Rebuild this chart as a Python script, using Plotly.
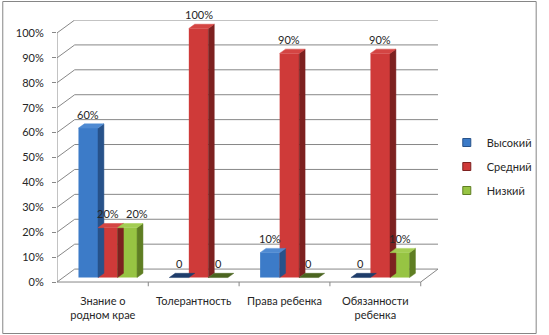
import plotly.graph_objects as go

# --- data -------------------------------------------------------------
categories = ["Знание о<br>родном крае", "Толерантность", "Права ребенка", "Обязанности<br>ребенка"]
series_names = ["Высокий", "Средний", "Низкий"]
high = [60, 0, 10, 0]
medium = [20, 100, 90, 90]
low = [20, 0, 0, 10]
y_ticks = [0, 10, 20, 30, 40, 50, 60, 70, 80, 90, 100]

series_values = [high, medium, low]

# --- styling ----------------------------------------------------------
front_colors = ["#3c7bc8", "#cf3a39", "#97c443"]
top_colors = ["#4f8ad2", "#d44543", "#a3cd52"]
side_colors = ["#27528a", "#7d2120", "#5f7e23"]
flat_colors = ["#1e3c6a", "#6a1b1a", "#4b6420"]
grid_color = "#878787"
text_color = "#262626"
font_family = "Lato"

W, H = 549, 335
ML, MR, MT, MB = 57, 102, 20, 48

# pseudo-3D geometry (data units)
BAR_W = 0.215          # width of one bar
SX, SY = 0.054, 1.8    # front face pushed into depth
BDX, BDY = 0.065, 1.7  # bar depth
DX, DY = 0.19, 5.2     # back wall offset

x_lo, x_hi = -0.505, 3.5 + DX
y_lo, y_hi = -2.0, 100 + DY

fig = go.Figure()

n_cat = len(categories)


def label_text(v):
    return "0" if v == 0 else f"{v}%"


for k, vals in enumerate(series_values):
    offset = -1.5 * BAR_W + k * BAR_W
    xs = [i + SX for i in range(n_cat)]
    # front faces
    fig.add_trace(go.Bar(
        x=xs, y=vals, base=SY, width=BAR_W, offset=offset,
        marker=dict(color=front_colors[k], line=dict(width=0)),
        showlegend=False, name=series_names[k], hoverinfo="skip",
    ))
    # top and side faces
    top_x, top_y, side_x, side_y, flat_x, flat_y = [], [], [], [], [], []
    for i, v in enumerate(vals):
        x0 = i + SX + offset
        x1 = x0 + BAR_W
        yt = v + SY
        poly_x = [x0, x1, x1 + BDX, x0 + BDX, x0, None]
        poly_y = [yt, yt, yt + BDY, yt + BDY, yt, None]
        if v == 0:
            flat_x += poly_x
            flat_y += poly_y
        else:
            top_x += poly_x
            top_y += poly_y
            side_x += [x1, x1, x1 + BDX, x1 + BDX, x1, None]
            side_y += [SY, yt, yt + BDY, SY + BDY, SY, None]
    for px, py, col in [(side_x, side_y, side_colors[k]), (top_x, top_y, top_colors[k]),
                        (flat_x, flat_y, flat_colors[k])]:
        if px:
            fig.add_trace(go.Scatter(
                x=px, y=py, mode="lines", fill="toself", fillcolor=col,
                line=dict(width=0.5, color=col), showlegend=False, hoverinfo="skip",
            ))
    # value labels; nudge a label right when its left neighbour has the same height
    for i, v in enumerate(vals):
        x0 = i + SX + offset
        nudge = 0
        if k > 0 and v != 0 and series_values[k - 1][i] == v:
            nudge = 10
        fig.add_annotation(
            x=x0 + BAR_W / 2, y=v + SY + BDY, text=label_text(v),
            showarrow=False, yanchor="bottom", yshift=1, xshift=nudge,
            font=dict(family=font_family, size=11, color=text_color),
        )

# legend entries
for k, name in enumerate(series_names):
    fig.add_trace(go.Scatter(
        x=[None], y=[None], mode="markers", name=name, legendgroup=name,
        marker=dict(symbol="square", size=8, color=front_colors[k],
                    line=dict(width=1, color=side_colors[k])),
    ))

shapes = []
# back wall gridlines with their diagonal lead-ins
for t in y_ticks:
    shapes.append(dict(type="line", x0=-0.5 + DX, y0=t + DY, x1=3.5 + DX, y1=t + DY,
                       line=dict(color=grid_color, width=1), layer="below"))
    shapes.append(dict(type="line", x0=x_lo, y0=t, x1=-0.5 + DX, y1=t + DY,
                       line=dict(color=grid_color, width=1), layer="below"))
# front vertical axis
shapes.append(dict(type="line", x0=x_lo, y0=0, x1=x_lo, y1=100,
                   line=dict(color=grid_color, width=1), layer="below"))
# floor edges
shapes.append(dict(type="line", x0=x_lo, y0=0, x1=3.5, y1=0,
                   line=dict(color=grid_color, width=1), layer="below"))
shapes.append(dict(type="line", x0=3.5, y0=0, x1=3.5 + DX, y1=DY,
                   line=dict(color=grid_color, width=1), layer="below"))
# category boundary ticks
for b in [0.5, 1.5, 2.5, 3.5]:
    shapes.append(dict(type="line", x0=b, y0=0, x1=b, y1=-1.7,
                       line=dict(color=grid_color, width=1), layer="below"))

# outer chart border (pixel positions converted to paper units)
pw, ph = W - ML - MR, H - MT - MB


def px_to_paper(px, py):
    return (px - ML) / pw, (H - MB - py) / ph


bx0, by0 = px_to_paper(1.5, 333.5)
bx1, by1 = px_to_paper(547.5, 1.5)
shapes.append(dict(type="rect", xref="paper", yref="paper", x0=bx0, y0=by0, x1=bx1, y1=by1,
                   line=dict(color="#868686", width=1), fillcolor="rgba(0,0,0,0)"))

lx, ly = px_to_paper(456, 128)

fig.update_layout(
    width=W, height=H,
    margin=dict(l=ML, r=MR, t=MT, b=MB, pad=0),
    paper_bgcolor="white", plot_bgcolor="white",
    barmode="overlay",
    shapes=shapes,
    font=dict(family=font_family, size=11, color=text_color),
    showlegend=True,
    legend=dict(x=lx, y=ly, xanchor="left", yanchor="top", traceorder="grouped",
                tracegroupgap=5, font=dict(family=font_family, size=11, color=text_color),
                bgcolor="rgba(0,0,0,0)", itemclick=False),
    xaxis=dict(range=[x_lo, x_hi], tickvals=list(range(n_cat)), ticktext=categories,
               ticks="", showgrid=False, zeroline=False, showline=False,
               ticklabelstandoff=6, fixedrange=True),
    yaxis=dict(range=[y_lo, y_hi], tickvals=y_ticks, ticktext=[f"{t}%" for t in y_ticks],
               ticks="outside", ticklen=4, tickcolor=grid_color, showgrid=False,
               zeroline=False, showline=False, ticklabelstandoff=6, fixedrange=True),
)

fig.write_html("out.html")
